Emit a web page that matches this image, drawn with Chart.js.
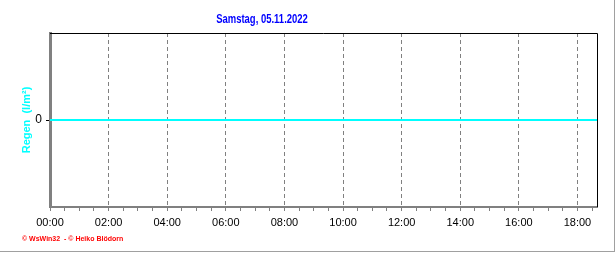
<!DOCTYPE html>
<html>
<head>
<meta charset="utf-8">
<script src="https://cdn.jsdelivr.net/npm/chart.js@4.4.0/dist/chart.umd.min.js"></script>
<style>
body{margin:0;background:#fff;}
#wrap{position:relative;width:616px;height:253px;overflow:hidden;background:#fff;}
#frame{position:absolute;left:0;top:0;width:614px;height:251px;border-right:1px solid #a0a0a0;border-bottom:1px solid #a0a0a0;}
#title{position:absolute;top:12px;left:0;width:524px;text-align:center;font:bold 12px "Liberation Sans",Arial,sans-serif;line-height:14px;color:#0000ff;transform:scaleX(0.79);transform-origin:262px 0;}
#credit{position:absolute;top:234px;left:22px;font:bold 7px "Liberation Sans",Arial,sans-serif;line-height:9px;color:#ff0000;white-space:nowrap;}
canvas{position:absolute;left:0;top:0;}
</style>
</head>
<body>
<div id="wrap">
<canvas id="rainChart" width="616" height="253"></canvas>
<div id="frame"></div>
<div id="title">Samstag, 05.11.2022</div>
<div id="credit">© WsWin32 &nbsp;- © Heiko Blödorn</div>
</div>
<script>
// minutes since midnight
const times = [0, 60, 120, 180, 240, 300, 360, 420, 480, 540, 600, 660, 720, 780, 840, 900, 960, 1020, 1080, 1120]
const rain = [0, 0, 0, 0, 0, 0, 0, 0, 0, 0, 0, 0, 0, 0, 0, 0, 0, 0, 0, 0]
const tickLabels = ["00:00","02:00","04:00","06:00","08:00","10:00","12:00","14:00","16:00","18:00"]

const frame = {
  id: "frame",
  afterDraw(chart) {
    const {ctx, chartArea: a} = chart
    ctx.save()
    ctx.strokeStyle = "#000"
    ctx.lineWidth = 1
    ctx.beginPath()
    ctx.moveTo(a.left, a.top + 0.5)
    ctx.lineTo(a.right + 0.5, a.top + 0.5)
    ctx.lineTo(a.right + 0.5, a.bottom)
    ctx.stroke()
    ctx.restore()
  }
}

new Chart(document.getElementById("rainChart"), {
  type: "line",
  data: {
    datasets: [{
      label: "Regen",
      data: times.map((t, i) => ({x: t, y: rain[i]})),
      borderColor: "#00ffff",
      borderWidth: 2,
      pointRadius: 0
    }]
  },
  options: {
    responsive: false,
    animation: false,
    layout: {padding: {top: 33, right: 19, left: 0, bottom: 0}},
    plugins: {legend: {display: false}, tooltip: {enabled: false}},
    scales: {
      x: {
        type: "linear",
        min: 0,
        max: 1120,
        afterBuildTicks: s => {
          const t = []
          for (let v = 0; v < 1120; v += 30) t.push({value: v})
          s.ticks = t
        },
        afterFit: s => { s.height = 46 },
        grid: {
          color: c => (c.tick && c.tick.value > 0 && c.tick.value % 120 === 0) ? "#808080" : "rgba(0,0,0,0)",
          lineWidth: 1,
          tickColor: "#808080",
          tickLength: 4,
          tickBorderDash: []
        },
        border: {color: "#808080", width: 2, dash: [4, 3]},
        ticks: {
          autoSkip: false,
          maxRotation: 0,
          padding: 5,
          color: "#000",
          font: {family: "Liberation Sans", size: 11},
          callback: v => v % 120 === 0 ? tickLabels[v / 120] : ""
        }
      },
      y: {
        min: -1,
        max: 1,
        afterBuildTicks: s => { s.ticks = [{value: 0}] },
        afterFit: s => { s.width = 50 },
        grid: {drawOnChartArea: false, tickLength: 4, tickColor: "#000"},
        border: {color: "#808080", width: 3},
        ticks: {padding: 4, color: "#000", font: {family: "Liberation Sans", size: 12}},
        title: {
          display: true,
          text: "Regen  (l/m²)",
          color: "#00ffff",
          font: {family: "Liberation Sans", size: 11, weight: "bold"},
          padding: {top: 20, bottom: 0}
        }
      }
    }
  },
  plugins: [frame]
})
</script>
</body>
</html>
